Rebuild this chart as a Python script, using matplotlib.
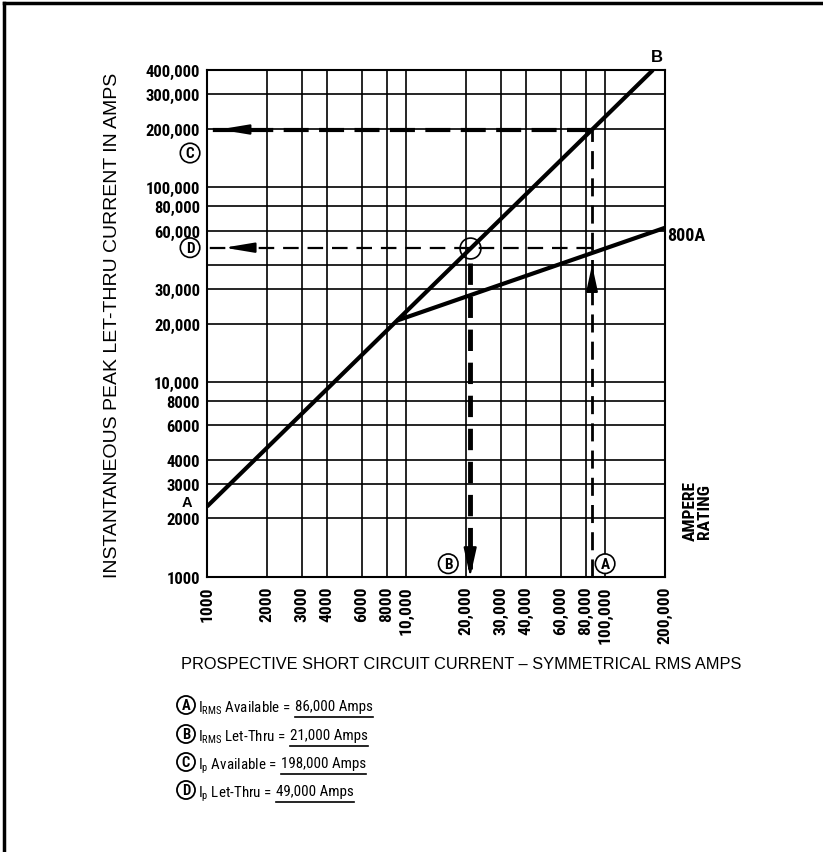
#Peak let-thru chart (800A fuse)

import os
import numpy as np
import matplotlib.pyplot as plt
from matplotlib.lines import Line2D
from matplotlib import font_manager as fm

#Values
x_ticks = [1000, 2000, 3000, 4000, 6000, 8000, 10000, 20000, 30000, 40000, 60000, 80000, 100000, 200000]
y_ticks = [1000, 2000, 3000, 4000, 6000, 8000, 10000, 20000, 30000, 40000, 60000, 80000, 100000, 200000, 300000, 400000]
y_blank = [40000]  # label spot taken by circled D

# line A-B : peak = 2.3 x rms (no fuse)
ab_x = [1000, 174000]
ab_y = [2300, 400000]
# 800A fuse let-thru line
fuse_x = [9000, 200000]
fuse_y = [20700, 62000]

irms_avail = 86000
irms_letthru = 21000
ip_avail = 198000
ip_letthru = 49000

legend_letters = ['A', 'B', 'C', 'D']
legend_prefix = [r'I$_{\mathregular{RMS}}$ Available =', r'I$_{\mathregular{RMS}}$ Let-Thru =',
                 r'I$_{\mathregular{p}}$ Available =', r'I$_{\mathregular{p}}$ Let-Thru =']
legend_value = ['86,000 Amps', '21,000 Amps', '198,000 Amps', '49,000 Amps']


#Find a narrow / condensed face if one is installed
def pick(bold):
    prefs = ['Liberation Sans Narrow', 'Roboto Condensed', 'Open Sans Condensed', 'Noto Sans Condensed',
             'Noto Sans', 'DejaVu Sans', 'Roboto', 'Open Sans', 'Lato', 'Inter']
    for fam in prefs:
        for f in fm.fontManager.ttflist:
            if f.name != fam or f.style != 'normal':
                continue
            base = os.path.basename(f.fname).lower()
            st = f.stretch if isinstance(f.stretch, int) else fm.stretch_dict.get(f.stretch, 500)
            if not ('narrow' in base or 'condensed' in base or 'narrow' in f.name.lower()
                    or 'condensed' in f.name.lower() or st < 500):
                continue
            if 'semi' in base or 'extra' in base or 'ultra' in base:
                continue
            w = f.weight if isinstance(f.weight, int) else fm.weight_dict.get(f.weight, 400)
            if (bold and w == 700) or (not bold and w == 400):
                return fm.FontProperties(fname=f.fname)
    return fm.FontProperties(family=['Liberation Sans', 'DejaVu Sans'], weight='bold' if bold else 'normal')


NB = pick(True)
NR = pick(False)
PLAIN = ['Liberation Sans', 'DejaVu Sans']


def fp(base, size):
    p = base.copy()
    p.set_size(size)
    return p


def fmt(v):
    return f'{v:,}' if v >= 10000 else str(v)


W, H = 823, 853
fig = plt.figure(figsize=(W / 100, H / 100), dpi=100)
ax = fig.add_axes([207 / W, 1 - 578 / H, 458 / W, 507 / H])
ax.set_xscale('log')
ax.set_yscale('log')
ax.set_xlim(1000, 200000)
ax.set_ylim(1000, 400000)
ax.minorticks_off()
ax.set_xticks(x_ticks)
ax.set_yticks(y_ticks)
ax.set_xticklabels([fmt(v) for v in x_ticks], rotation=90, fontproperties=fp(NB, 12.5))
ax.set_yticklabels(['' if v in y_blank else fmt(v) for v in y_ticks], fontproperties=fp(NB, 12))
ax.tick_params(which='both', length=0)
ax.tick_params(axis='x', pad=6)
ax.tick_params(axis='y', pad=5)
ax.grid(True, color='black', lw=1.2)
for s in ax.spines.values():
    s.set_linewidth(1.5)

#Main lines
ax.plot(ab_x, ab_y, color='black', lw=3, solid_capstyle='butt')
ax.plot(fuse_x, fuse_y, color='black', lw=3, solid_capstyle='butt')

#Dashed construction lines
ax.plot([irms_avail, 960], [ip_avail, ip_avail], color='black', lw=3, dashes=(6, 2.5), clip_on=False)
ax.plot([irms_avail, 960], [ip_letthru, ip_letthru], color='black', lw=1.6, dashes=(7, 4), clip_on=False)
ax.plot([irms_avail, irms_avail], [1000, ip_avail], color='black', lw=2, dashes=(6.5, 3.3))
ax.plot([irms_letthru, irms_letthru], [41000, 1100], color='black', lw=3.5, dashes=(4.4, 2.4))
ax.plot(irms_letthru, ip_letthru, 'o', ms=15, mfc='none', mec='black', mew=1.2)

arrow = dict(arrowstyle='-|>,head_length=1.8,head_width=0.3', color='black', lw=1.5, shrinkA=0, shrinkB=0)
ax.annotate('', xy=(1150, ip_avail), xytext=(1600, ip_avail), arrowprops=arrow, annotation_clip=False)
ax.annotate('', xy=(1220, ip_letthru), xytext=(1650, ip_letthru), arrowprops=arrow, annotation_clip=False)
ax.annotate('', xy=(irms_avail, 40000), xytext=(irms_avail, 33000),
            arrowprops=dict(arrowstyle='-|>,head_length=1.6,head_width=0.35', color='black', lw=1.5, shrinkA=0, shrinkB=0))
ax.annotate('', xy=(irms_letthru, 1000), xytext=(irms_letthru, 1300),
            arrowprops=dict(arrowstyle='-|>,head_length=1.8,head_width=0.4', color='black', lw=1.5, shrinkA=0, shrinkB=0))

#Circled letters on the chart
circ = dict(boxstyle='circle,pad=0.18', fc='white', ec='black', lw=1.2)
ax.text(16300, 1170, 'B', ha='center', va='center', fontproperties=fp(NB, 11), bbox=circ)
ax.text(100000, 1170, 'A', ha='center', va='center', fontproperties=fp(NB, 11), bbox=circ)
ax.text(822, 150000, 'C', ha='center', va='center', fontproperties=fp(NB, 11), bbox=circ, clip_on=False)
ax.text(822, ip_letthru, 'D', ha='center', va='center', fontproperties=fp(NB, 11), bbox=circ, clip_on=False)

#Letter tags
ax.text(182000, 470000, 'B', ha='center', va='center', fontsize=12, fontweight='heavy', family=PLAIN, clip_on=False)
ax.text(205000, 57000, '800A', ha='left', va='center', fontproperties=fp(NB, 13), clip_on=False)
ax.text(790, 2440, 'A', ha='center', va='center', fontsize=10.5, fontweight='heavy', family=PLAIN, clip_on=False)
ax.text(290000, 2200, 'AMPERE\nRATING', ha='center', va='center', rotation=90, fontproperties=fp(NB, 12.5),
        linespacing=0.9, clip_on=False)

#Axis titles
fig.text(113 / W, 1 - 325 / H, 'INSTANTANEOUS PEAK LET-THRU CURRENT IN AMPS', rotation=90, ha='center', va='center',
         fontsize=14, family=PLAIN)
fig.text(181 / W, 1 - 665 / H, 'PROSPECTIVE SHORT CIRCUIT CURRENT – SYMMETRICAL RMS AMPS', ha='left', va='center',
         fontsize=11.8, family=PLAIN)

#Legend block
rows = [706, 735, 763, 791]
fig.canvas.draw()
rend = fig.canvas.get_renderer()
for y, let, pre, val in zip(rows, legend_letters, legend_prefix, legend_value):
    fig.text(186 / W, 1 - y / H, let, ha='center', va='center', fontproperties=fp(NB, 10.5),
             bbox=dict(boxstyle='circle,pad=0.14', fc='white', ec='black', lw=1.3))
    t = fig.text(198 / W, 1 - y / H, pre, ha='left', va='center_baseline', fontproperties=fp(NR, 10.8))
    bb = t.get_window_extent(rend)
    t2 = fig.text((bb.x1 + 4) / W, 1 - y / H, val, ha='left', va='center_baseline', fontproperties=fp(NR, 10.8))
    bb2 = t2.get_window_extent(rend)
    uy = (bb2.y0 - 3) / H
    fig.add_artist(Line2D([bb2.x0 / W, bb2.x1 / W], [uy, uy], color='black', lw=1.2))

#Frame (top and left only)
fig.add_artist(Line2D([4 / W, 4 / W], [0, 1 - 4 / H], color='black', lw=2.5))
fig.add_artist(Line2D([4 / W, 1], [1 - 4 / H, 1 - 4 / H], color='black', lw=2.5))

plt.savefig('out.png', dpi=100)
